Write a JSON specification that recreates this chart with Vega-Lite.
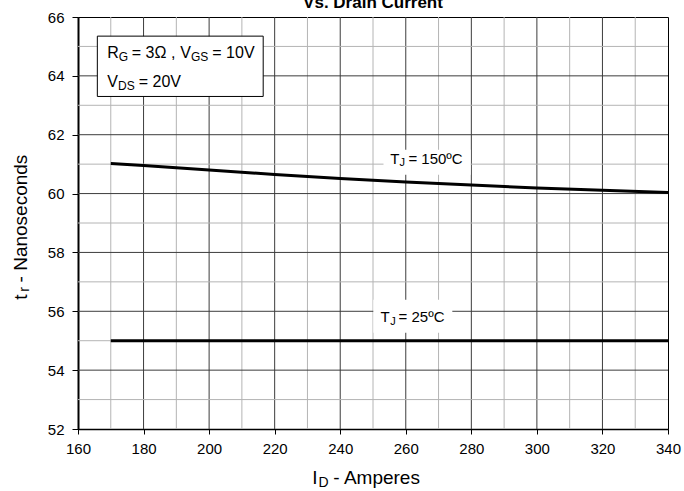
{
  "$schema": "https://vega.github.io/schema/vega-lite/v6.json",
  "width": 590,
  "height": 412,
  "autosize": "none",
  "padding": {"left": 78, "top": 17, "right": 16, "bottom": 62},
  "background": "white",
  "config": {
    "view": {"stroke": "#000", "strokeWidth": 1},
    "font": "Liberation Sans"
  },
  "datasets": {
    "curves": [
      {"id": 170, "tr": 61.02, "series": "150"},
      {"id": 180, "tr": 60.95, "series": "150"},
      {"id": 190, "tr": 60.88, "series": "150"},
      {"id": 200, "tr": 60.8, "series": "150"},
      {"id": 220, "tr": 60.65, "series": "150"},
      {"id": 240, "tr": 60.51, "series": "150"},
      {"id": 260, "tr": 60.39, "series": "150"},
      {"id": 280, "tr": 60.29, "series": "150"},
      {"id": 300, "tr": 60.19, "series": "150"},
      {"id": 320, "tr": 60.11, "series": "150"},
      {"id": 340, "tr": 60.04, "series": "150"},
      {"id": 170, "tr": 55.0, "series": "25"},
      {"id": 340, "tr": 55.0, "series": "25"}
    ],
    "xgrid": [
      {"v": 170, "major": 0}, {"v": 180, "major": 1}, {"v": 190, "major": 0}, {"v": 200, "major": 1},
      {"v": 210, "major": 0}, {"v": 220, "major": 1}, {"v": 230, "major": 0}, {"v": 240, "major": 1},
      {"v": 250, "major": 0}, {"v": 260, "major": 1}, {"v": 270, "major": 0}, {"v": 280, "major": 1},
      {"v": 290, "major": 0}, {"v": 300, "major": 1}, {"v": 310, "major": 0}, {"v": 320, "major": 1},
      {"v": 330, "major": 0}
    ],
    "ygrid": [
      {"v": 53, "major": 0}, {"v": 54, "major": 1}, {"v": 55, "major": 0}, {"v": 56, "major": 1},
      {"v": 57, "major": 0}, {"v": 58, "major": 1}, {"v": 59, "major": 0}, {"v": 60, "major": 1},
      {"v": 61, "major": 0}, {"v": 62, "major": 1}, {"v": 63, "major": 0}, {"v": 64, "major": 1},
      {"v": 65, "major": 0}
    ],
    "boxes": [
      {"x1": 165.9, "x2": 216.5, "y1": 65.35, "y2": 63.3, "kind": "legend"},
      {"x1": 253.2, "x2": 279.8, "y1": 61.49, "y2": 60.64, "kind": "bg"},
      {"x1": 250.1, "x2": 274.2, "y1": 56.39, "y2": 55.27, "kind": "bg"}
    ],
    "titles": [
      {"x": 250, "y": 66.32, "t": "Vs. Drain Current"}
    ],
    "notes": [
      {"x": 168.94, "y": 64.62, "t": "R", "fs": 16, "ang": 0},
      {"x": 172.45, "y": 64.52, "t": "G", "fs": 12, "ang": 0},
      {"x": 176.41, "y": 64.62, "t": "= 3Ω ,", "fs": 16, "ang": 0},
      {"x": 191.21, "y": 64.62, "t": "V", "fs": 16, "ang": 0},
      {"x": 194.47, "y": 64.52, "t": "GS", "fs": 12, "ang": 0},
      {"x": 200.97, "y": 64.62, "t": "= 10V", "fs": 16, "ang": 0},
      {"x": 168.94, "y": 63.62, "t": "V", "fs": 16, "ang": 0},
      {"x": 172.2, "y": 63.52, "t": "DS", "fs": 12, "ang": 0},
      {"x": 178.52, "y": 63.62, "t": "= 20V", "fs": 16, "ang": 0},
      {"x": 255.3, "y": 61.02, "t": "T", "fs": 15, "ang": 0},
      {"x": 258.1, "y": 60.92, "t": "J", "fs": 11, "ang": 0},
      {"x": 260.8, "y": 61.02, "t": "= 150ºC", "fs": 15, "ang": 0},
      {"x": 252.3, "y": 55.62, "t": "T", "fs": 15, "ang": 0},
      {"x": 255.3, "y": 55.52, "t": "J", "fs": 11, "ang": 0},
      {"x": 257.8, "y": 55.62, "t": "= 25ºC", "fs": 15, "ang": 0},
      {"x": 231.5, "y": 50.14, "t": "I", "fs": 19, "ang": 0},
      {"x": 233.4, "y": 50.03, "t": "D", "fs": 14, "ang": 0},
      {"x": 237.9, "y": 50.14, "t": "- Amperes", "fs": 19, "ang": 0},
      {"x": 144.3, "y": 56.39, "t": "t", "fs": 19, "ang": 270},
      {"x": 145.2, "y": 56.66, "t": "r", "fs": 14, "ang": 270},
      {"x": 144.3, "y": 56.98, "t": "- Nanoseconds", "fs": 19, "ang": 270}
    ]
  },
  "layer": [
    {
      "data": {"name": "xgrid"},
      "mark": {"type": "rule", "strokeWidth": 1},
      "encoding": {
        "x": {"field": "v", "type": "quantitative", "scale": {"domain": [160, 340], "nice": false, "zero": false},
          "axis": {"values": [160, 180, 200, 220, 240, 260, 280, 300, 320, 340], "title": null, "grid": false,
            "domainColor": "#000", "domainWidth": 1.5, "tickColor": "#000", "tickSize": 5, "labelFontSize": 15,
            "labelColor": "#000", "labelPadding": 7, "labelFlush": false}},
        "color": {"field": "major", "type": "nominal", "scale": {"domain": [0, 1], "range": ["#b4b4b4", "#3c3c3c"]}, "legend": null}
      }
    },
    {
      "data": {"name": "ygrid"},
      "mark": {"type": "rule", "strokeWidth": 1},
      "encoding": {
        "y": {"field": "v", "type": "quantitative", "scale": {"domain": [52, 66], "nice": false, "zero": false},
          "axis": {"values": [52, 54, 56, 58, 60, 62, 64, 66], "title": null, "grid": false,
            "domainColor": "#000", "domainWidth": 2, "tickColor": "#000", "tickSize": 6, "labelFontSize": 15,
            "labelColor": "#000", "labelPadding": 8, "labelFlush": false}},
        "color": {"field": "major", "type": "nominal", "scale": {"domain": [0, 1], "range": ["#b4b4b4", "#1e1e1e"]}, "legend": null}
      }
    },
    {
      "data": {"name": "boxes"},
      "mark": {"type": "rect", "fill": "white"},
      "encoding": {
        "x": {"field": "x1", "type": "quantitative"},
        "x2": {"field": "x2"},
        "y": {"field": "y1", "type": "quantitative"},
        "y2": {"field": "y2"},
        "stroke": {"condition": {"test": "datum.kind === 'legend'", "value": "#000"}, "value": null},
        "strokeWidth": {"value": 1}
      }
    },
    {
      "data": {"name": "curves"},
      "mark": {"type": "line", "color": "#000", "strokeWidth": 3},
      "encoding": {
        "x": {"field": "id", "type": "quantitative"},
        "y": {"field": "tr", "type": "quantitative"},
        "detail": {"field": "series"}
      }
    },
    {
      "data": {"name": "notes"},
      "mark": {"type": "text", "align": "left", "baseline": "alphabetic", "color": "#000", "font": "Liberation Sans"},
      "encoding": {
        "x": {"field": "x", "type": "quantitative"},
        "y": {"field": "y", "type": "quantitative"},
        "text": {"field": "t"},
        "size": {"field": "fs", "type": "quantitative", "scale": null},
        "angle": {"field": "ang", "type": "quantitative", "scale": null}
      }
    },
    {
      "data": {"name": "titles"},
      "mark": {"type": "text", "align": "center", "baseline": "alphabetic", "color": "#000", "font": "Liberation Sans", "fontWeight": "bold", "fontSize": 17},
      "encoding": {
        "x": {"field": "x", "type": "quantitative"},
        "y": {"field": "y", "type": "quantitative"},
        "text": {"field": "t"}
      }
    }
  ]
}
